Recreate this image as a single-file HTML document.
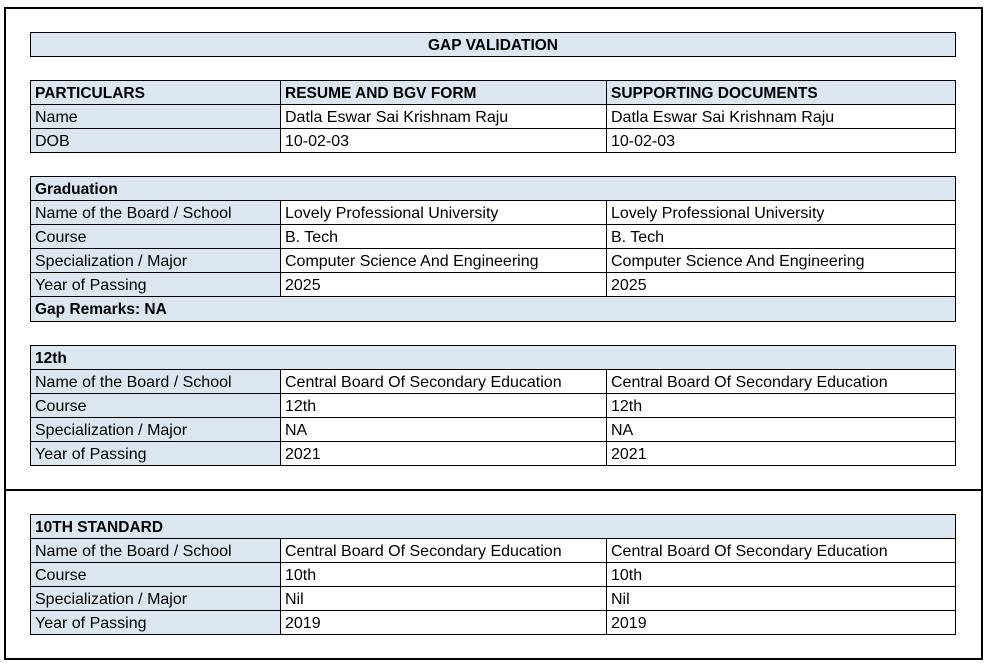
<!DOCTYPE html>
<html>
<head>
<meta charset="utf-8">
<style>
  html,body{margin:0;padding:0;background:#fff;}
  body{width:986px;height:663px;position:relative;overflow:hidden;
       font-family:"Liberation Sans",Arial,sans-serif;font-size:16px;color:#000;}
  .frame{position:absolute;box-sizing:border-box;border:2px solid #000;left:4px;width:979px;}
  .c{position:absolute;box-sizing:border-box;border:1px solid #000;height:25px;
     padding:2px 0 0 4px;line-height:21px;white-space:nowrap;overflow:hidden;background:#fff;}
  .b{background:#dce6f1;}
  .bold{font-weight:bold;font-size:15.5px;}
  .c1{left:30px;width:251px;}
  .c2{left:280px;width:327px;}
  .c3{left:606px;width:350px;}
  .full{left:30px;width:926px;}
  .ctr{text-align:center;padding-left:0;}
</style>
</head>
<body>
<div class="frame" style="top:7px;height:484px;"></div>
<div class="frame" style="top:489px;height:171px;"></div>

<!-- GAP VALIDATION -->
<div class="c full b bold ctr" style="top:32px;">GAP VALIDATION</div>

<!-- Particulars -->
<div class="c c1 b bold" style="top:80px;">PARTICULARS</div>
<div class="c c2 b bold" style="top:80px;">RESUME AND BGV FORM</div>
<div class="c c3 b bold" style="top:80px;">SUPPORTING DOCUMENTS</div>

<div class="c c1 b" style="top:104px;">Name</div>
<div class="c c2" style="top:104px;">Datla Eswar Sai Krishnam Raju</div>
<div class="c c3" style="top:104px;">Datla Eswar Sai Krishnam Raju</div>

<div class="c c1 b" style="top:128px;">DOB</div>
<div class="c c2" style="top:128px;">10-02-03</div>
<div class="c c3" style="top:128px;">10-02-03</div>

<!-- Graduation -->
<div class="c full b bold" style="top:176px;">Graduation</div>

<div class="c c1 b" style="top:200px;">Name of the Board / School</div>
<div class="c c2" style="top:200px;">Lovely Professional University</div>
<div class="c c3" style="top:200px;">Lovely Professional University</div>

<div class="c c1 b" style="top:224px;">Course</div>
<div class="c c2" style="top:224px;">B. Tech</div>
<div class="c c3" style="top:224px;">B. Tech</div>

<div class="c c1 b" style="top:248px;">Specialization / Major</div>
<div class="c c2" style="top:248px;">Computer Science And Engineering</div>
<div class="c c3" style="top:248px;">Computer Science And Engineering</div>

<div class="c c1 b" style="top:272px;">Year of Passing</div>
<div class="c c2" style="top:272px;">2025</div>
<div class="c c3" style="top:272px;">2025</div>

<div class="c full b bold" style="top:296px;height:26px;">Gap Remarks: NA</div>

<!-- 12th -->
<div class="c full b bold" style="top:345px;">12th</div>

<div class="c c1 b" style="top:369px;">Name of the Board / School</div>
<div class="c c2" style="top:369px;">Central Board Of Secondary Education</div>
<div class="c c3" style="top:369px;">Central Board Of Secondary Education</div>

<div class="c c1 b" style="top:393px;">Course</div>
<div class="c c2" style="top:393px;">12th</div>
<div class="c c3" style="top:393px;">12th</div>

<div class="c c1 b" style="top:417px;">Specialization / Major</div>
<div class="c c2" style="top:417px;">NA</div>
<div class="c c3" style="top:417px;">NA</div>

<div class="c c1 b" style="top:441px;">Year of Passing</div>
<div class="c c2" style="top:441px;">2021</div>
<div class="c c3" style="top:441px;">2021</div>

<!-- 10th -->
<div class="c full b bold" style="top:514px;">10TH STANDARD</div>

<div class="c c1 b" style="top:538px;">Name of the Board / School</div>
<div class="c c2" style="top:538px;">Central Board Of Secondary Education</div>
<div class="c c3" style="top:538px;">Central Board Of Secondary Education</div>

<div class="c c1 b" style="top:562px;">Course</div>
<div class="c c2" style="top:562px;">10th</div>
<div class="c c3" style="top:562px;">10th</div>

<div class="c c1 b" style="top:586px;">Specialization / Major</div>
<div class="c c2" style="top:586px;">Nil</div>
<div class="c c3" style="top:586px;">Nil</div>

<div class="c c1 b" style="top:610px;">Year of Passing</div>
<div class="c c2" style="top:610px;">2019</div>
<div class="c c3" style="top:610px;">2019</div>
</body>
</html>
